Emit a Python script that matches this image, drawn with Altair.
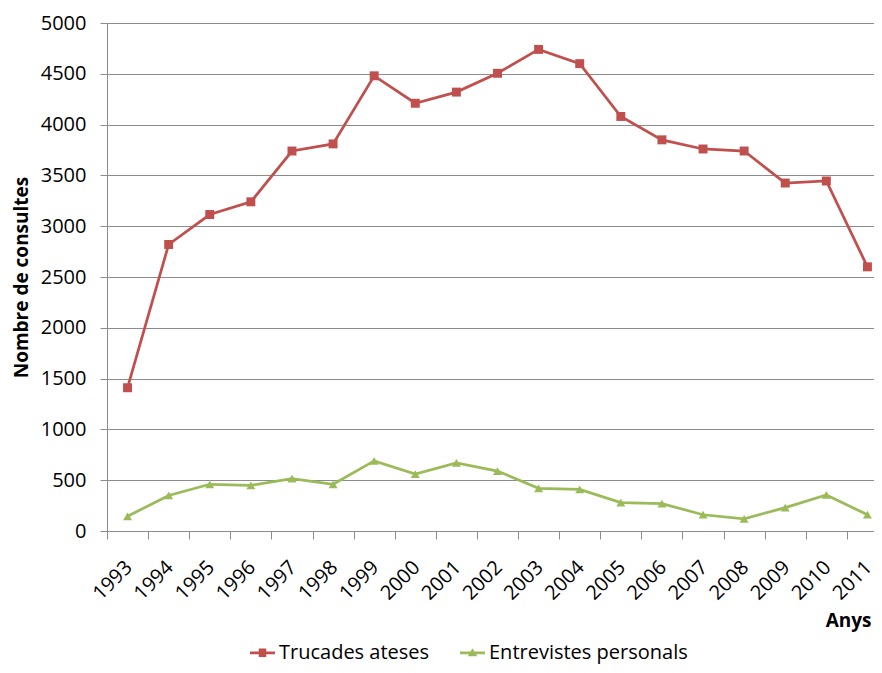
import altair as alt
import pandas as pd

years = ["1993", "1994", "1995", "1996", "1997", "1998", "1999", "2000", "2001", "2002",
         "2003", "2004", "2005", "2006", "2007", "2008", "2009", "2010", "2011"]
trucades = [1410, 2820, 3115, 3240, 3740, 3810, 4480, 4210, 4320, 4505,
            4740, 4600, 4080, 3850, 3760, 3740, 3425, 3445, 2600]
entrevistes = [145, 350, 460, 450, 515, 460, 690, 560, 670, 590,
               420, 410, 280, 270, 160, 120, 230, 355, 160]
series_names = ["Trucades ateses", "Entrevistes personals"]
colors = ["#C0504D", "#9BBB59"]
marker_shapes = ["square", "triangle-up"]
# legend glyphs: short line segment with the marker on it (all filled areas)
legend_shapes = ["M-1,-0.11H1V0.11H-1ZM-0.3,-0.34H0.3V0.34H-0.3Z",
                 "M-1,-0.11H1V0.11H-1ZM0,-0.36L0.38,0.28H-0.38Z"]

df = pd.DataFrame({
    "Any": years + years,
    "Serie": [series_names[0]] * len(years) + [series_names[1]] * len(years),
    "Consultes": trucades + entrevistes,
})

FONT = "Open Sans"
W = 767
H = 508
RANGE_W = 781
STEP = RANGE_W / len(years)
GRID = "#8c8c8c"

x_enc = alt.X(
    "Any:N", sort=years,
    scale=alt.Scale(type="band", paddingInner=0, paddingOuter=0, range=[0, RANGE_W]),
    axis=alt.Axis(
        title="Anys", labelAngle=-45, labelAlign="right", labelBaseline="middle",
        tickOffset=-STEP / 2, labelOffset=STEP / 2 + 1, tickSize=8, labelPadding=25,
        domainColor=GRID, tickColor=GRID, grid=False,
        labelFont=FONT, labelFontSize=20, labelColor="#000",
        titleFont=FONT, titleFontSize=19, titleFontWeight="bold", titleColor="#000",
        titleAnchor="end", titleAlign="right", titleX=764, titleY=95,
        titleBaseline="alphabetic", titleAngle=0,
    ),
)
y_enc = alt.Y(
    "Consultes:Q",
    scale=alt.Scale(domain=[0, 5000], nice=False),
    axis=alt.Axis(
        title="Nombre de consultes", values=list(range(0, 5001, 500)), format="d",
        tickSize=7, labelPadding=14, grid=True, gridColor=GRID, domainColor=GRID,
        tickColor=GRID, labelFont=FONT, labelFontSize=20, labelColor="#000",
        titleFont=FONT, titleFontSize=19, titleFontWeight="bold", titleColor="#000",
        titleX=-86, titleY=H / 2, titleAngle=-90, titleAlign="center",
        titleBaseline="middle",
    ),
)

base = alt.Chart(df)

series_layers = []
for name, col, shp in zip(series_names, colors, marker_shapes):
    sub = base.transform_filter(alt.datum.Serie == name)
    series_layers.append(sub.mark_line(strokeWidth=2.75, color=col).encode(x=x_enc, y=y_enc))
    series_layers.append(
        sub.mark_point(filled=True, size=80, opacity=1, shape=shp, color=col).encode(x=x_enc, y=y_enc)
    )

legend_cfg = alt.Legend(
    title=None, orient="none", direction="horizontal", legendX=143, legendY=617,
    symbolSize=625, symbolStrokeWidth=0, symbolOpacity=1,
    labelFont=FONT, labelFontSize=20, labelColor="#000",
    columnPadding=30, labelOffset=4, labelLimit=400,
)

legend_layer = base.mark_point(size=0, filled=True, opacity=1).encode(
    x=x_enc, y=y_enc,
    color=alt.Color("Serie:N", scale=alt.Scale(domain=series_names, range=colors), legend=legend_cfg),
    shape=alt.Shape("Serie:N", scale=alt.Scale(domain=series_names, range=legend_shapes), legend=legend_cfg),
)

chart = alt.layer(*series_layers, legend_layer).properties(
    width=W, height=H,
    autosize=alt.AutoSizeParams(type="none"),
    padding={"left": 99, "top": 15, "right": 0, "bottom": 134},
).configure_view(stroke=None)

chart.save("out.html", embed_options={"renderer": "svg", "actions": False})
